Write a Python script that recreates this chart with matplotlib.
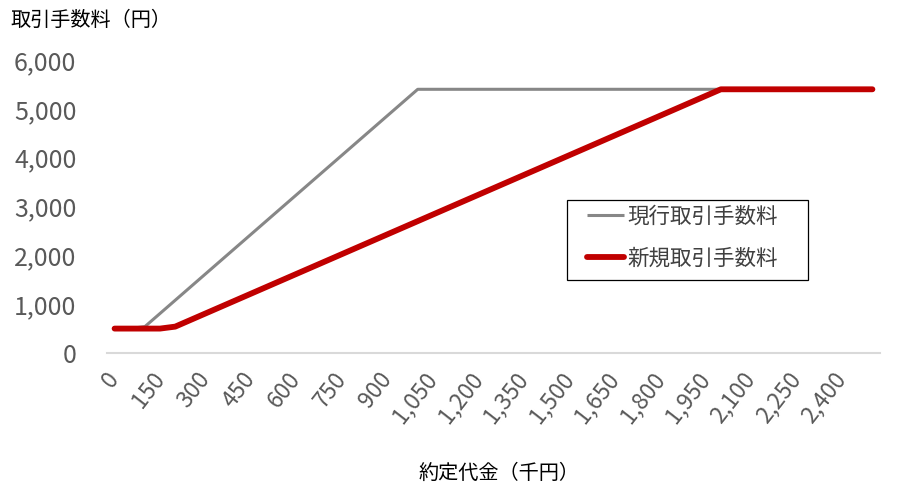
import matplotlib
matplotlib.use("Agg")
import matplotlib.pyplot as plt
from matplotlib.patches import Rectangle

plt.rcParams['font.family'] = ['Noto Sans CJK JP', 'DejaVu Sans']

# 約定代金 (千円), every 50 from 0 to 2,500
amounts = [0, 50, 100, 150, 200, 250, 300, 350, 400, 450, 500, 550, 600, 650, 700,
           750, 800, 850, 900, 950, 1000, 1050, 1100, 1150, 1200, 1250, 1300, 1350,
           1400, 1450, 1500, 1550, 1600, 1650, 1700, 1750, 1800, 1850, 1900, 1950,
           2000, 2050, 2100, 2150, 2200, 2250, 2300, 2350, 2400, 2450, 2500]

current_fee = [500, 500, 540, 810, 1080, 1350, 1620, 1890, 2160, 2430, 2700, 2970,
               3240, 3510, 3780, 4050, 4320, 4590, 4860, 5130, 5400,
               5400, 5400, 5400, 5400, 5400, 5400, 5400, 5400, 5400, 5400,
               5400, 5400, 5400, 5400, 5400, 5400, 5400, 5400, 5400, 5400,
               5400, 5400, 5400, 5400, 5400, 5400, 5400, 5400, 5400, 5400]

new_fee = [500, 500, 500, 500, 540, 675, 810, 945, 1080, 1215, 1350, 1485, 1620,
           1755, 1890, 2025, 2160, 2295, 2430, 2565, 2700, 2835, 2970, 3105, 3240,
           3375, 3510, 3645, 3780, 3915, 4050, 4185, 4320, 4455, 4590, 4725, 4860,
           4995, 5130, 5265, 5400,
           5400, 5400, 5400, 5400, 5400, 5400, 5400, 5400, 5400, 5400]

series_names = ['現行取引手数料', '新規取引手数料']
y_ticks = [0, 1000, 2000, 3000, 4000, 5000, 6000]

W, H = 901, 493
fig = plt.figure(figsize=(W / 100, H / 100), dpi=100)
ax = fig.add_axes([107 / W, 1 - 353 / H, 773 / W, 293 / H])

idx = list(range(len(amounts)))
ax.plot(idx, current_fee, color='#878787', lw=2.2, label=series_names[0],
        solid_capstyle='butt', zorder=3)
ax.plot(idx, new_fee, color='#C00000', lw=4.2, label=series_names[1],
        solid_capstyle='round', solid_joinstyle='round', zorder=4)

ax.set_xlim(-0.5, len(amounts) - 0.5)
ax.set_ylim(0, 6000)

ax.set_yticks(y_ticks)
ax.set_yticklabels([f'{v:,}' for v in y_ticks], fontsize=18, color='#595959')
tick_idx = idx[::3]
ax.set_xticks(tick_idx)
ax.set_xticklabels([f'{amounts[i]:,}' for i in tick_idx], fontsize=16.5,
                   color='#595959', rotation=52, ha='right', va='center',
                   rotation_mode='anchor')
ax.tick_params(axis='y', length=0, pad=22)
ax.tick_params(axis='x', length=0, pad=16)

for s in ['top', 'right', 'left']:
    ax.spines[s].set_visible(False)
ax.spines['bottom'].set_color('#d9d9d9')
ax.spines['bottom'].set_linewidth(1.5)

fig.text(10 / W, 1 - 20 / H, '取引手数料（円）', fontsize=14.5,
         color='#000000', ha='left', va='center')
fig.text(499 / W, 1 - 473 / H, '約定代金（千円）', fontsize=14.5,
         color='#000000', ha='center', va='center')

# legend box drawn separately so it can be wider than its contents, as in Excel
fig.patches.append(Rectangle((567 / W, 1 - 280 / H), 241 / W, 80 / H,
                             transform=fig.transFigure, fill=False,
                             edgecolor='#000000', lw=0.9))
leg = ax.legend(loc='upper left', bbox_to_anchor=(583 / W, 1 - 201 / H),
                bbox_transform=fig.transFigure, fontsize=15.5, frameon=False,
                handlelength=1.7, handletextpad=0.15, borderpad=0.2,
                labelspacing=0.95, borderaxespad=0)
for t in leg.get_texts():
    t.set_color('#404040')

fig.savefig('out.png', dpi=100)
